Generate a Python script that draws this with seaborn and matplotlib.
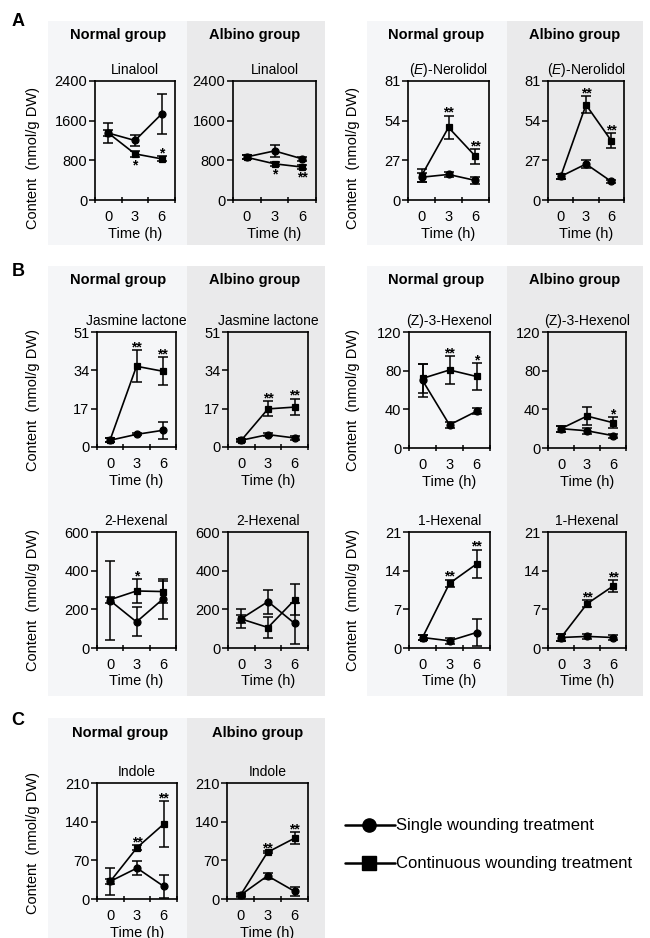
import numpy as np
import pandas as pd
import matplotlib
matplotlib.use('Agg')
import matplotlib.pyplot as plt
import seaborn as sns
from matplotlib.patches import Rectangle
from matplotlib.lines import Line2D

# ---------------- data ----------------
times = ['0', '3', '6']
treatments = ['Single wounding treatment', 'Continuous wounding treatment']

linalool_n_single = [1350, 1200, 1735]
linalool_n_single_err = [200, 115, 400]
linalool_n_cont = [1350, 930, 830]
linalool_n_cont_err = [60, 55, 50]
linalool_a_single = [870, 990, 830]
linalool_a_single_err = [40, 120, 35]
linalool_a_cont = [860, 730, 665]
linalool_a_cont_err = [40, 45, 35]

nerolidol_n_single = [15.5, 17.4, 13.3]
nerolidol_n_single_err = [3, 1.5, 2.5]
nerolidol_n_cont = [16.5, 49.4, 29.7]
nerolidol_n_cont_err = [4.5, 8, 5]
nerolidol_a_single = [16, 24.5, 12.6]
nerolidol_a_single_err = [2, 2.5, 0.8]
nerolidol_a_cont = [16, 64.8, 40.3]
nerolidol_a_cont_err = [2, 5.7, 5]

jasmine_n_single = [3.0, 5.6, 7.4]
jasmine_n_single_err = [0.8, 0.5, 3.8]
jasmine_n_cont = [3.2, 35.8, 33.6]
jasmine_n_cont_err = [1, 7, 6.2]
jasmine_a_single = [3.0, 5.5, 4.0]
jasmine_a_single_err = [0.5, 0.7, 0.7]
jasmine_a_cont = [3.0, 16.9, 17.7]
jasmine_a_cont_err = [0.6, 3.3, 3.7]

hexenol_n_single = [70, 23.9, 38]
hexenol_n_single_err = [17, 3, 3]
hexenol_n_cont = [72, 80.7, 74]
hexenol_n_cont_err = [15, 14, 14]
hexenol_a_single = [20, 17.8, 12.8]
hexenol_a_single_err = [3, 3, 2]
hexenol_a_cont = [20, 33, 26.2]
hexenol_a_cont_err = [3, 9, 5.7]

hexenal2_n_single = [245, 135, 253]
hexenal2_n_single_err = [205, 75, 103]
hexenal2_n_cont = [250, 295, 292]
hexenal2_n_cont_err = [15, 60, 57]
hexenal2_a_single = [152, 240, 127]
hexenal2_a_single_err = [48, 62, 105]
hexenal2_a_cont = [150, 106, 249]
hexenal2_a_cont_err = [20, 55, 80]

hexenal1_n_single = [1.9, 1.3, 2.8]
hexenal1_n_single_err = [0.4, 0.6, 2.4]
hexenal1_n_cont = [1.9, 11.7, 15.2]
hexenal1_n_cont_err = [0.4, 0.7, 2.6]
hexenal1_a_single = [1.9, 2.1, 1.9]
hexenal1_a_single_err = [0.6, 0.5, 0.4]
hexenal1_a_cont = [1.9, 8.0, 11.2]
hexenal1_a_cont_err = [0.6, 0.6, 1.1]

indole_n_single = [32, 56, 23]
indole_n_single_err = [24, 12, 21]
indole_n_cont = [32, 93, 135.6]
indole_n_cont_err = [4, 4, 41]
indole_a_single = [7, 42, 14]
indole_a_single_err = [3, 5, 8]
indole_a_cont = [7, 84.6, 110]
indole_a_cont_err = [2, 2, 11]

# ---------------- style ----------------
sns.set_style('ticks')
plt.rcParams['font.family'] = ['Liberation Sans', 'DejaVu Sans']
plt.rcParams['mathtext.fontset'] = 'custom'
plt.rcParams['mathtext.it'] = 'Liberation Sans:italic'
plt.rcParams['mathtext.rm'] = 'Liberation Sans'
for k in ['axes.edgecolor', 'xtick.color', 'ytick.color', 'text.color',
          'axes.labelcolor', 'xtick.labelcolor', 'ytick.labelcolor']:
    plt.rcParams[k] = 'black'

W, H = 650, 938
fig = plt.figure(figsize=(W / 100, H / 100), dpi=100)


def frect(l, t, r, b):
    return [l / W, 1 - b / H, (r - l) / W, (b - t) / H]


C_NORMAL = '#f5f6f8'
C_ALBINO = '#eaeaeb'
backgrounds = [
    (48, 21, 187, 245, C_NORMAL), (187, 21, 325, 245, C_ALBINO),
    (367, 21, 507, 245, C_NORMAL), (507, 21, 643, 245, C_ALBINO),
    (48, 266, 187, 696, C_NORMAL), (187, 266, 325, 696, C_ALBINO),
    (367, 266, 507, 696, C_NORMAL), (507, 266, 643, 696, C_ALBINO),
    (48, 718, 187, 945, C_NORMAL), (187, 718, 325, 945, C_ALBINO),
]
for l, t, r, b, c in backgrounds:
    fig.add_artist(Rectangle((l / W, 1 - b / H), (r - l) / W, (b - t) / H,
                             transform=fig.transFigure, facecolor=c,
                             edgecolor='none', zorder=0))

panels = [
    # title, ymax, single, serr, cont, cerr, stars, starpos, rect(l,t,r,b)
    ('Linalool', 2400, linalool_n_single, linalool_n_single_err, linalool_n_cont, linalool_n_cont_err,
     ['', '*', '*'], ['', 'below', 'above'], (95, 81, 175, 200)),
    ('Linalool', 2400, linalool_a_single, linalool_a_single_err, linalool_a_cont, linalool_a_cont_err,
     ['', '*', '**'], ['', 'below', 'below'], (233, 81, 316, 200)),
    (r'($\mathit{E}$)-Nerolidol', 81, nerolidol_n_single, nerolidol_n_single_err, nerolidol_n_cont, nerolidol_n_cont_err,
     ['', '**', '**'], ['', 'above', 'above'], (408, 81, 489, 200)),
    (r'($\mathit{E}$)-Nerolidol', 81, nerolidol_a_single, nerolidol_a_single_err, nerolidol_a_cont, nerolidol_a_cont_err,
     ['', '**', '**'], ['', 'above', 'above'], (548, 81, 624, 200)),
    ('Jasmine lactone', 51, jasmine_n_single, jasmine_n_single_err, jasmine_n_cont, jasmine_n_cont_err,
     ['', '**', '**'], ['', 'above', 'above'], (97, 332, 176, 447)),
    ('Jasmine lactone', 51, jasmine_a_single, jasmine_a_single_err, jasmine_a_cont, jasmine_a_cont_err,
     ['', '**', '**'], ['', 'above', 'above'], (228, 332, 308, 447)),
    ('(Z)-3-Hexenol', 120, hexenol_n_single, hexenol_n_single_err, hexenol_n_cont, hexenol_n_cont_err,
     ['', '**', '*'], ['', 'above', 'above'], (409, 332, 490, 448)),
    ('(Z)-3-Hexenol', 120, hexenol_a_single, hexenol_a_single_err, hexenol_a_cont, hexenol_a_cont_err,
     ['', '', '*'], ['', '', 'above'], (548, 332, 626, 448)),
    ('2-Hexenal', 600, hexenal2_n_single, hexenal2_n_single_err, hexenal2_n_cont, hexenal2_n_cont_err,
     ['', '*', ''], ['', 'above', ''], (97, 532, 176, 648)),
    ('2-Hexenal', 600, hexenal2_a_single, hexenal2_a_single_err, hexenal2_a_cont, hexenal2_a_cont_err,
     ['', '', ''], ['', '', ''], (228, 532, 308, 648)),
    ('1-Hexenal', 21, hexenal1_n_single, hexenal1_n_single_err, hexenal1_n_cont, hexenal1_n_cont_err,
     ['', '**', '**'], ['', 'above', 'above'], (409, 532, 490, 648)),
    ('1-Hexenal', 21, hexenal1_a_single, hexenal1_a_single_err, hexenal1_a_cont, hexenal1_a_cont_err,
     ['', '**', '**'], ['', 'above', 'above'], (548, 532, 626, 648)),
    ('Indole', 210, indole_n_single, indole_n_single_err, indole_n_cont, indole_n_cont_err,
     ['', '**', '**'], ['', 'above', 'above'], (97, 783, 177, 899)),
    ('Indole', 210, indole_a_single, indole_a_single_err, indole_a_cont, indole_a_cont_err,
     ['', '**', '**'], ['', 'above', 'above'], (227, 783, 308, 899)),
]

FS = 10.5
for title, ymax, s, se, c, ce, stars, spos, (l, t, r, b) in panels:
    ax = fig.add_axes(frect(l, t, r, b))
    ax.set_facecolor('none')
    df = pd.DataFrame({
        'time': times * 2,
        'value': list(s) + list(c),
        'treatment': [treatments[0]] * len(times) + [treatments[1]] * len(times),
    })
    sns.pointplot(data=df, x='time', y='value', hue='treatment', order=times,
                  hue_order=treatments, markers=['o', 's'], linestyles=['-', '-'],
                  palette=['black', 'black'], errorbar=None, ax=ax, legend=False,
                  markersize=5, linewidth=1.2)
    xs = np.arange(len(times))
    for vals, errs in ((s, se), (c, ce)):
        ax.errorbar(xs, vals, yerr=errs, fmt='none', ecolor='black',
                    elinewidth=1.1, capsize=3.5, capthick=1.1, zorder=3)
    for i, (st, pos) in enumerate(zip(stars, spos)):
        if not st:
            continue
        if pos == 'above':
            ax.annotate(st, (xs[i], c[i] + ce[i]), xytext=(0, -3),
                        textcoords='offset points', ha='center', va='bottom',
                        fontsize=10, fontweight='bold')
        else:
            ax.annotate(st, (xs[i], c[i] - ce[i]), xytext=(0, -1),
                        textcoords='offset points', ha='center', va='top',
                        fontsize=10, fontweight='bold')
    ax.set_xlim(-0.5, len(times) - 0.5)
    ax.set_ylim(0, ymax)
    yt = np.linspace(0, ymax, 4)
    ax.set_yticks(yt, labels=[f'{v:g}' for v in yt])
    ax.set_xticks(xs, labels=times)
    ax.set_xticks(np.arange(len(times) + 1) - 0.5, minor=True)
    ax.tick_params(axis='x', which='major', length=0, pad=7, labelsize=FS)
    ax.tick_params(axis='x', which='minor', length=4, width=1.1, direction='inout')
    ax.tick_params(axis='y', which='major', length=4, width=1.1, direction='out',
                   pad=1.5, labelsize=FS)
    ax.set_xlabel('Time (h)', fontsize=FS, labelpad=2)
    ax.set_ylabel('')
    ax.set_title(title, fontsize=10, pad=5)
    for sp in ax.spines.values():
        sp.set_visible(True)
        sp.set_linewidth(1.2)
        sp.set_color('black')

# y labels
ylab = 'Content  (nmol/g DW)'
for x, y in [(33, 158), (353, 158), (33, 400), (353, 400), (33, 600), (353, 600), (33, 843)]:
    fig.text(x / W, 1 - y / H, ylab, rotation=90, ha='center', va='center', fontsize=FS)

# group headings
for x, y, txt in [(118, 35, 'Normal group'), (255, 35, 'Albino group'),
                  (436, 35, 'Normal group'), (575, 35, 'Albino group'),
                  (118, 280, 'Normal group'), (255, 280, 'Albino group'),
                  (436, 280, 'Normal group'), (575, 280, 'Albino group'),
                  (120, 733, 'Normal group'), (258, 733, 'Albino group')]:
    fig.text(x / W, 1 - y / H, txt, ha='center', va='center', fontsize=FS,
             fontweight='bold')

# panel letters
for y, txt in [(22, 'A'), (272, 'B'), (720, 'C')]:
    fig.text(18 / W, 1 - y / H, txt, ha='center', va='center', fontsize=13,
             fontweight='bold')

# legend
for y, mk, txt in [(825, 'o', treatments[0]), (863, 's', treatments[1])]:
    fig.add_artist(Line2D([345 / W, 395 / W], [1 - y / H, 1 - y / H],
                          transform=fig.transFigure, color='black', lw=1.8))
    fig.add_artist(Line2D([369 / W], [1 - y / H], transform=fig.transFigure,
                          marker=mk, markersize=9.5, color='black', lw=0))
    fig.text(396 / W, 1 - y / H, txt, ha='left', va='center', fontsize=12)

fig.savefig('out.png', dpi=100)
